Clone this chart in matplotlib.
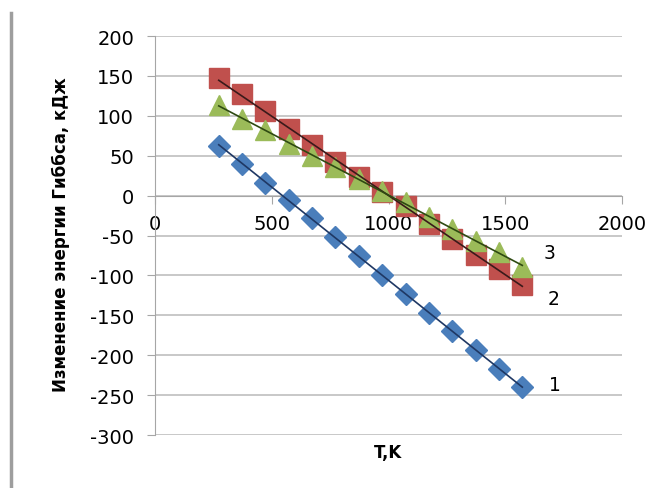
import numpy as np
import matplotlib
matplotlib.use("Agg")
import matplotlib.pyplot as plt
from matplotlib.lines import Line2D

# temperatures, K
temps = [273, 373, 473, 573, 673, 773, 873, 973, 1073, 1173, 1273, 1373, 1473, 1573]

# Gibbs energy change, kJ
dg_1 = [62, 40, 16, -5, -28, -52, -76, -100, -123, -147, -170, -194, -217, -240]
dg_2 = [147, 127, 106, 84, 63, 42, 23, 4, -13, -35, -54, -74, -92, -112]
dg_3 = [113, 96, 82, 65, 50, 36, 21, 6, -8, -27, -42, -57, -71, -89]

series_labels = ["1", "2", "3"]
y_ticks = list(range(-300, 201, 50))
x_ticks = [0, 500, 1000, 1500, 2000]

plt.rcParams["font.family"] = ["DejaVu Sans"]
plt.rcParams["axes.unicode_minus"] = False

fig = plt.figure(figsize=(6.62, 4.89), dpi=100)
ax = fig.add_axes([155 / 662, 1 - 436 / 489, (622 - 155) / 662, (436 - 37) / 489])

styles = [
    (dg_1, "D", "#4A7EBB", 11.5, "#1F3864"),
    (dg_2, "s", "#C0504D", 14.5, "#3A1A1A"),
    (dg_3, "^", "#9BBB59", 14.5, "#2E4A12"),
]
offsets = [(19, 2), (18, -10), (15, 10)]

t = np.array(temps)
for (vals, mk, col, ms, lc), lab, off in zip(styles, series_labels, offsets):
    ax.plot(temps, vals, linestyle="none", marker=mk, markersize=ms,
            color=col, markeredgecolor=col, zorder=3)
    k, b = np.polyfit(t, vals, 1)
    ax.plot(t, k * t + b, color=lc, linewidth=1.2, zorder=4)
    ax.annotate(lab, (temps[-1], vals[-1]), xytext=off, textcoords="offset points",
                fontsize=13.5, va="center", ha="left")

ax.set_xlim(0, 2000)
ax.set_ylim(-300, 200)
ax.set_yticks(y_ticks)
ax.set_xticks(x_ticks)
ax.grid(axis="y", color="#BFBFBF", linewidth=1.2)
ax.set_axisbelow(True)

for s in ["top", "right"]:
    ax.spines[s].set_visible(False)
ax.spines["bottom"].set_position(("data", 0))
ax.spines["bottom"].set_color("#A6A6A6")
ax.spines["left"].set_color("#A6A6A6")
ax.tick_params(axis="y", direction="out", length=6, color="#A6A6A6", labelsize=14, pad=9)
ax.tick_params(axis="x", direction="out", length=6, color="#A6A6A6", labelsize=14, pad=7)

fig.text(61 / 662, 1 - 235 / 489, "Изменение энергии Гиббса, кДж", rotation=90,
         fontsize=12, fontweight="bold", ha="center", va="center")
fig.text(388 / 662, 1 - 453 / 489, "T,K", fontsize=12, fontweight="bold",
         ha="center", va="center")

# page border line on the left
fig.add_artist(Line2D([10.5 / 662, 10.5 / 662], [0, 1 - 14 / 489],
                      color="#9E9E9E", linewidth=2.5))

fig.savefig("out.png", dpi=100)
